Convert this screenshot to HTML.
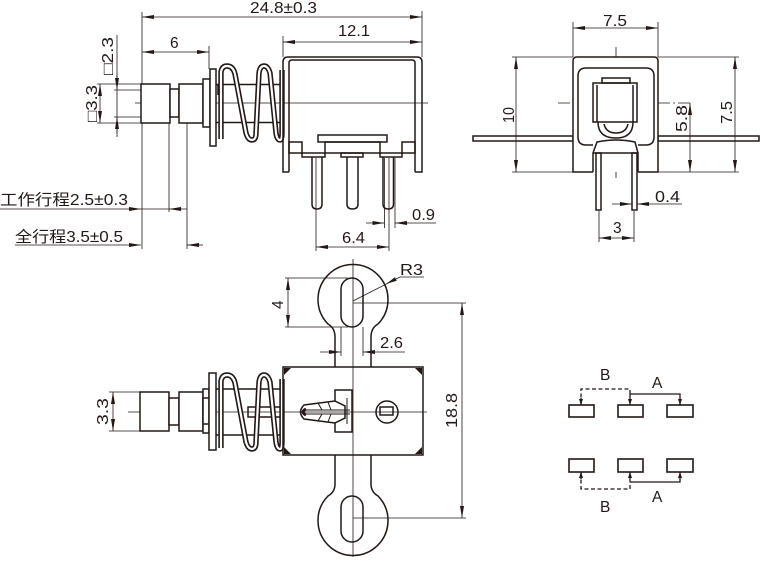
<!DOCTYPE html>
<html><head><meta charset="utf-8"><style>
html,body{margin:0;padding:0;background:#fff;}
svg{display:block;}
text{font-family:"Liberation Sans","Noto Sans CJK SC",sans-serif;font-size:15.5px;fill:#231815;}
</style></head><body>
<svg width="760" height="563" viewBox="0 0 760 563" xmlns="http://www.w3.org/2000/svg">
<defs>
<marker id="a" viewBox="0 0 12 4" refX="12" refY="2" markerWidth="12" markerHeight="4" markerUnits="userSpaceOnUse" orient="auto-start-reverse"><path d="M0,0 L12,2 L0,4z" fill="#231815" stroke="none"/></marker>
<marker id="m" viewBox="0 0 6 4" refX="6" refY="2" markerWidth="6" markerHeight="4" markerUnits="userSpaceOnUse" orient="auto-start-reverse"><path d="M0,0 L6,2 L0,4z" fill="#231815" stroke="none"/></marker>
</defs>
<rect width="760" height="563" fill="#fff"/>

<!-- ================= VIEW 1 : side view ================= -->
<g stroke="#231815" fill="none" stroke-width="0.8">
  <line x1="135" y1="103" x2="428" y2="103"/>
  <line x1="142" y1="17" x2="422" y2="17" marker-start="url(#a)" marker-end="url(#a)"/>
  <line x1="142" y1="12" x2="142" y2="249"/>
  <line x1="422" y1="11" x2="422" y2="57"/>
  <line x1="142" y1="52" x2="209" y2="52" marker-start="url(#a)" marker-end="url(#a)"/>
  <line x1="209" y1="46" x2="209" y2="69"/>
  <line x1="283" y1="42" x2="422" y2="42" marker-start="url(#a)" marker-end="url(#a)"/>
  <line x1="283" y1="36" x2="283" y2="57"/>
  <line x1="117" y1="35" x2="117" y2="137"/>
  <line x1="117" y1="74" x2="117" y2="90" marker-end="url(#a)"/>
  <line x1="117" y1="133" x2="117" y2="117" marker-end="url(#a)"/>
  <line x1="114" y1="90" x2="141" y2="90"/>
  <line x1="114" y1="117" x2="141" y2="117"/>
  <line x1="100" y1="84" x2="100" y2="123" marker-start="url(#a)" marker-end="url(#a)"/>
  <line x1="97" y1="84" x2="141" y2="84"/>
  <line x1="97" y1="123" x2="141" y2="123"/>
  <line x1="169" y1="123" x2="169" y2="212"/>
  <line x1="187" y1="123" x2="187" y2="249"/>
  <line x1="0" y1="209" x2="141" y2="209" marker-end="url(#a)"/>
  <line x1="141" y1="209" x2="169" y2="209"/>
  <line x1="187" y1="209" x2="169" y2="209" marker-end="url(#a)"/>
  <line x1="15" y1="245" x2="141" y2="245" marker-end="url(#a)"/>
  <line x1="203" y1="245" x2="187" y2="245" marker-end="url(#a)"/>
  <line x1="316" y1="158" x2="316" y2="251"/>
  <line x1="389" y1="158" x2="389" y2="251"/>
  <line x1="384.5" y1="158" x2="384.5" y2="228"/>
  <line x1="395" y1="158" x2="395" y2="228"/>
  <line x1="366" y1="223" x2="384.5" y2="223" marker-end="url(#a)"/>
  <line x1="436" y1="223" x2="395" y2="223" marker-end="url(#a)"/>
  <line x1="316" y1="247" x2="389" y2="247" marker-start="url(#a)" marker-end="url(#a)"/>
</g>
<g stroke="#231815" fill="#fff" stroke-width="1.5">
  <rect x="141" y="84" width="29" height="39"/>
  <rect x="170" y="89" width="9" height="28"/>
  <rect x="179" y="84" width="24" height="39"/>
  <rect x="203" y="79" width="7" height="48"/>
  <rect x="210" y="69" width="6" height="77"/>
  <line x1="218" y1="84" x2="218" y2="95"/>
  <line x1="216" y1="84.5" x2="283" y2="84.5"/>
  <line x1="216" y1="122.5" x2="283" y2="122.5"/>
</g>
<g fill="none">
  <path d="M221,139 L221,72 Q222,66 227,66 Q233,66 235,74 L246,133 Q248,140 252,140 Q256,140 256,133 L259,73 Q260,66 264,66 Q268,66 270,73 L276,133 Q277,140 280,140 Q282,140 282,133 L282,70" stroke="#231815" stroke-width="5.4"/>
  <path d="M221,139 L221,72 Q222,66 227,66 Q233,66 235,74 L246,133 Q248,140 252,140 Q256,140 256,133 L259,73 Q260,66 264,66 Q268,66 270,73 L276,133 Q277,140 280,140 Q282,140 282,133 L282,70" stroke="#fff" stroke-width="2.2"/>
</g>
<g stroke="#231815" fill="none" stroke-width="1.5">
  <path d="M289,172 H283 V62 Q283,57 288,57 H417 Q422,57 422,62 V172 H415"/>
  <path d="M289,172 V63 Q289,60 292,60 H412 Q415,60 415,63 V172"/>
  <rect x="289" y="142" width="13" height="11"/>
  <rect x="302" y="153" width="23" height="4"/>
  <rect x="318" y="135" width="69" height="7"/>
  <rect x="325" y="142" width="55" height="11"/>
  <rect x="341" y="153" width="22" height="4"/>
  <rect x="380" y="153" width="22" height="4"/>
  <rect x="402" y="142" width="13" height="11"/>
  <path d="M312,157 V204 Q312,209 317,209 Q322,209 322,204 V157"/>
  <path d="M347,157 V204 Q347,209 352.5,209 Q358,209 358,204 V157"/>
  <path d="M383,157 V204 Q383,209 388.3,209 Q393.5,209 393.5,204 V157"/>
</g>
<text x="250" y="13" textLength="67" lengthAdjust="spacingAndGlyphs">24.8±0.3</text>
<text x="338" y="36" textLength="32" lengthAdjust="spacingAndGlyphs">12.1</text>
<text x="170" y="48">6</text>
<text transform="translate(113,75) rotate(-90)" textLength="38" lengthAdjust="spacingAndGlyphs">□2.3</text>
<text transform="translate(97,122) rotate(-90)" textLength="37" lengthAdjust="spacingAndGlyphs">□3.3</text>
<text x="0" y="205" textLength="128" lengthAdjust="spacingAndGlyphs">工作行程2.5±0.3</text>
<text x="15" y="242" textLength="108" lengthAdjust="spacingAndGlyphs">全行程3.5±0.5</text>
<text x="412" y="220" textLength="23" lengthAdjust="spacingAndGlyphs">0.9</text>
<text x="342" y="243" textLength="23" lengthAdjust="spacingAndGlyphs">6.4</text>

<!-- ================= VIEW 2 : end view ================= -->
<g stroke="#231815" fill="none" stroke-width="0.8">
  <line x1="616" y1="47" x2="616" y2="178" stroke-dasharray="12 3 2 3"/>
  <line x1="558" y1="103" x2="693" y2="103" stroke-dasharray="12 3 2 3"/>
  <line x1="573" y1="28" x2="658" y2="28" marker-start="url(#a)" marker-end="url(#a)"/>
  <line x1="573" y1="22" x2="573" y2="57"/>
  <line x1="658" y1="22" x2="658" y2="57"/>
  <line x1="516" y1="57" x2="516" y2="172" marker-start="url(#a)" marker-end="url(#a)"/>
  <line x1="512" y1="57" x2="573" y2="57"/>
  <line x1="512" y1="172" x2="573" y2="172"/>
  <line x1="735" y1="57" x2="735" y2="172" marker-start="url(#a)" marker-end="url(#a)"/>
  <line x1="658" y1="57" x2="739" y2="57"/>
  <line x1="658" y1="172" x2="739" y2="172"/>
  <line x1="690" y1="103" x2="690" y2="172" marker-start="url(#a)" marker-end="url(#a)"/>
  <line x1="612" y1="204" x2="632" y2="204" marker-end="url(#a)"/>
  <line x1="682" y1="204" x2="637" y2="204" marker-end="url(#a)"/>
  <line x1="599" y1="211" x2="599" y2="242"/>
  <line x1="634" y1="211" x2="634" y2="242"/>
  <line x1="599" y1="238" x2="634" y2="238" marker-start="url(#a)" marker-end="url(#a)"/>
</g>
<g stroke="#231815" fill="none" stroke-width="1.5">
  <rect x="473" y="136" width="100" height="5"/>
  <rect x="658" y="136" width="101" height="5"/>
  <path d="M593,172 H573 V61 Q573,57 577,57 H654 Q658,57 658,61 V172 H638" fill="#fff"/>
  <path d="M593,145 H586 Q578,145 578,137 V76 Q578,68 586,68 H646 Q654,68 654,76 V137 Q654,145 646,145 H638"/>
  <path d="M593,172 V153 L597,142 Q616,138 635,142 L638,153 V172"/>
  <line x1="593" y1="153" x2="638" y2="153"/>
  <rect x="602" y="78" width="28" height="5"/>
  <rect x="593" y="83" width="44" height="39"/>
  <line x1="597" y1="85" x2="597" y2="122"/>
  <line x1="633" y1="85" x2="633" y2="122"/>
  <path d="M598,122 Q598,138 616,138 Q633,138 633,122"/>
  <path d="M604,124 Q606,133 616,133 Q626,133 628,124"/>
  <rect x="596" y="153" width="5" height="57"/>
  <rect x="632" y="153" width="5" height="57"/>
</g>
<text x="603" y="26" textLength="24" lengthAdjust="spacingAndGlyphs">7.5</text>
<text transform="translate(514,123) rotate(-90)" textLength="16" lengthAdjust="spacingAndGlyphs">10</text>
<text transform="translate(687,132) rotate(-90)" textLength="27" lengthAdjust="spacingAndGlyphs">5.8</text>
<text transform="translate(732,124) rotate(-90)" textLength="23" lengthAdjust="spacingAndGlyphs">7.5</text>
<text x="655" y="202" textLength="25" lengthAdjust="spacingAndGlyphs">0.4</text>
<text x="613" y="233">3</text>

<!-- ================= VIEW 3 : bottom view ================= -->
<g stroke="#231815" fill="none" stroke-width="0.8">
  <line x1="353" y1="259" x2="353" y2="557"/>
  <line x1="128" y1="412" x2="427" y2="412"/>
  <line x1="113" y1="392" x2="113" y2="431" marker-start="url(#a)" marker-end="url(#a)"/>
  <line x1="109" y1="392" x2="140" y2="392"/>
  <line x1="109" y1="431" x2="140" y2="431"/>
  <line x1="288" y1="278" x2="288" y2="327" marker-start="url(#a)" marker-end="url(#a)"/>
  <line x1="285" y1="278" x2="348" y2="278"/>
  <line x1="285" y1="327" x2="348" y2="327"/>
  <line x1="341" y1="327" x2="341" y2="356"/>
  <line x1="363" y1="327" x2="363" y2="356"/>
  <line x1="320" y1="352" x2="341" y2="352" marker-end="url(#a)"/>
  <line x1="405" y1="352" x2="363" y2="352" marker-end="url(#a)"/>
  <line x1="462" y1="303" x2="462" y2="518" marker-start="url(#a)" marker-end="url(#a)"/>
  <line x1="353" y1="303" x2="466" y2="303"/>
  <line x1="353" y1="518" x2="466" y2="518"/>
  <line x1="353" y1="301" x2="400" y2="277"/>
  <line x1="400" y1="277" x2="424" y2="277"/>
</g>
<polygon points="386,284 396.7,280.8 394.9,277.2" fill="#231815"/>
<g stroke="#231815" fill="#fff" stroke-width="1.5">
  <rect x="140" y="392" width="29" height="39"/>
  <rect x="169" y="398" width="10" height="27"/>
  <rect x="179" y="392" width="24" height="39"/>
  <rect x="203" y="389" width="6" height="44"/>
  <rect x="203" y="398" width="6" height="26"/>
  <rect x="209" y="373" width="7" height="77"/>
  <line x1="216" y1="389" x2="283" y2="389"/>
  <line x1="216" y1="435" x2="283" y2="435"/>
  <rect x="248" y="407" width="35" height="10" fill="none"/>
</g>
<g fill="none" transform="translate(0,309)">
  <path d="M221,139 L221,72 Q222,66 227,66 Q233,66 235,74 L246,133 Q248,140 252,140 Q256,140 256,133 L259,73 Q260,66 264,66 Q268,66 270,73 L276,133 Q277,140 280,140 Q282,140 282,133 L282,70" stroke="#231815" stroke-width="5.4"/>
  <path d="M221,139 L221,72 Q222,66 227,66 Q233,66 235,74 L246,133 Q248,140 252,140 Q256,140 256,133 L259,73 Q260,66 264,66 Q268,66 270,73 L276,133 Q277,140 280,140 Q282,140 282,133 L282,70" stroke="#fff" stroke-width="2.2"/>
</g>
<g stroke="#231815" fill="none" stroke-width="1.5">
  <path d="M335,367 V337 Q335,328 328,324 A35,35 0 1 1 378,324 Q371,328 371,337 V367"/>
  <rect x="341" y="278" width="22" height="49" rx="11"/>
  <path d="M335,455 V484 Q335,492 328,496 A35,35 0 1 0 378,496 Q371,492 371,484 V455"/>
  <rect x="341" y="496" width="22" height="46" rx="11"/>
  <rect x="283" y="367" width="140" height="88"/>
  <path d="M335,390 H352 V432 H335 V423 L345,418 V406 L335,401 Z"/>
  <path d="M335,401 L304,405 Q297,412 304,419 L335,423"/>
  <line x1="347" y1="398" x2="347" y2="424" stroke-width="1"/>
  <line x1="303" y1="410" x2="350" y2="410" stroke-width="1"/>
  <line x1="303" y1="414" x2="350" y2="414" stroke-width="1"/>
  <path d="M318,403 L322,410 M328,402 L331,410 M318,421 L322,414 M328,422 L331,414" stroke-width="1"/>
  <circle cx="387" cy="412" r="11"/>
  <rect x="380" y="407" width="13" height="8"/>
</g>
<path d="M306,409 Q300,412 306,415" stroke="#231815" stroke-width="3" fill="none"/>
<g fill="#231815">
  <polygon points="284,368 291,368 284,375"/>
  <polygon points="422,368 415,368 422,375"/>
  <polygon points="284,454 291,454 284,447"/>
  <polygon points="422,454 415,454 422,447"/>
</g>
<text x="400" y="275" textLength="23" lengthAdjust="spacingAndGlyphs">R3</text>
<text transform="translate(283,309) rotate(-90)">4</text>
<text x="380" y="348" textLength="23" lengthAdjust="spacingAndGlyphs">2.6</text>
<text transform="translate(457,428) rotate(-90)" textLength="35" lengthAdjust="spacingAndGlyphs">18.8</text>
<text transform="translate(108,425) rotate(-90)" textLength="27" lengthAdjust="spacingAndGlyphs">3.3</text>

<!-- ================= Schematic ================= -->
<g stroke="#231815" fill="none" stroke-width="1.6">
  <rect x="569" y="405" width="25" height="12"/>
  <rect x="618" y="405" width="25" height="12"/>
  <rect x="667" y="405" width="26" height="12"/>
  <rect x="569" y="459" width="25" height="13"/>
  <rect x="618" y="459" width="25" height="13"/>
  <rect x="667" y="459" width="26" height="13"/>
</g>
<g stroke="#231815" fill="none" stroke-width="1.3">
  <path d="M581,404 V389 H630 V394" stroke-dasharray="4 2.5"/>
  <line x1="581" y1="398" x2="581" y2="405" marker-end="url(#m)"/>
  <line x1="630" y1="394" x2="630" y2="405" marker-end="url(#m)"/>
  <path d="M630,394 H680 V405" marker-end="url(#m)"/>
  <path d="M581,473 V489 H630 V482" stroke-dasharray="4 2.5"/>
  <line x1="581" y1="479" x2="581" y2="472" marker-end="url(#m)"/>
  <line x1="630" y1="482" x2="630" y2="472" marker-end="url(#m)"/>
  <path d="M630,482 H680 V472" marker-end="url(#m)"/>
</g>
<text x="600" y="380">B</text>
<text x="652" y="388">A</text>
<text x="652" y="502">A</text>
<text x="600" y="512">B</text>
</svg>
</body></html>
